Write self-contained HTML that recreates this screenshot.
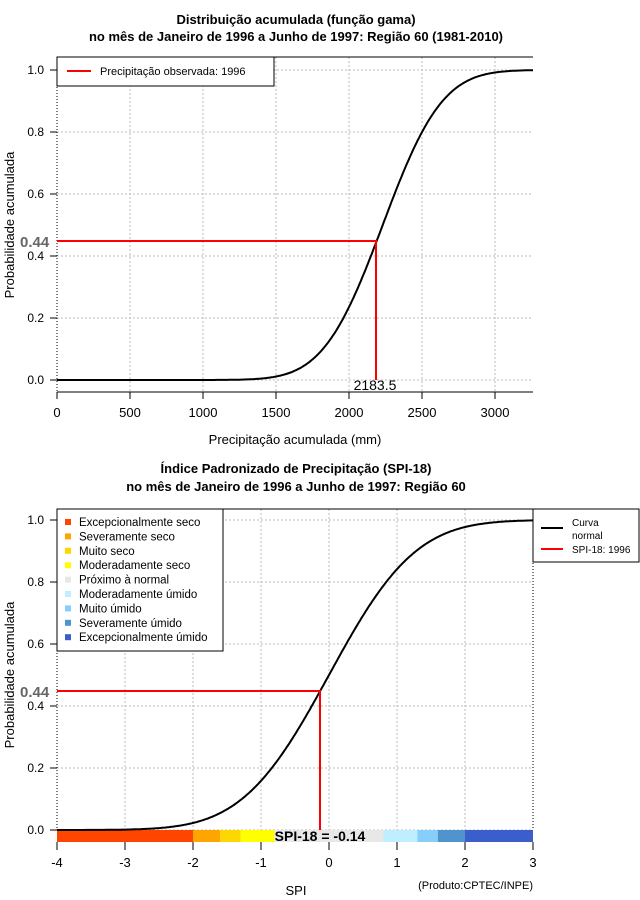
<!DOCTYPE html>
<html><head><meta charset="utf-8"><style>
body{margin:0;background:#fff;}
svg{display:block;font-family:"Liberation Sans","DejaVu Sans",sans-serif;}
</style></head><body>
<svg id="s" width="640" height="900" xmlns="http://www.w3.org/2000/svg">
<rect width="640" height="900" fill="#fff"/>
<g font-weight="bold" font-size="13" text-anchor="middle">
<text x="296" y="24">Distribuição acumulada (função gama)</text>
<text x="296" y="41">no mês de Janeiro de 1996 a Junho de 1997: Região 60 (1981-2010)</text>
<text x="296" y="473">Índice Padronizado de Precipitação (SPI-18)</text>
<text x="296" y="491">no mês de Janeiro de 1996 a Junho de 1997: Região 60</text>
</g>
<g id="g1" stroke="#bbb" stroke-dasharray="2,2" stroke-width="1"></g>
<g id="g2" stroke="#bbb" stroke-dasharray="2,2" stroke-width="1"></g>
<!-- plot1 frame -->
<line x1="57" y1="57" x2="533" y2="57" stroke="#000"/>
<line x1="57" y1="392" x2="533" y2="392" stroke="#000"/>
<line x1="57" y1="57" x2="57" y2="392" stroke="#000" stroke-dasharray="1,2"/>
<!-- plot2 frame -->
<line x1="57" y1="509" x2="533" y2="509" stroke="#000"/>
<line x1="57" y1="509" x2="57" y2="830" stroke="#000" stroke-dasharray="1,2"/>
<line x1="533" y1="509" x2="533" y2="830" stroke="#000" stroke-dasharray="1,2"/>
<!-- colorbar -->
<g id="cb"></g>
<path id="c1" fill="none" stroke="#000" stroke-width="2"/>
<path id="c2" fill="none" stroke="#000" stroke-width="2"/>
<!-- red lines -->
<polyline points="57,241 376,241 376,380" fill="none" stroke="#f00" stroke-width="2"/>
<polyline points="57,691 320,691 320,830" fill="none" stroke="#f00" stroke-width="2"/>
<g id="ticks" stroke="#000"></g>
<g id="lab" font-size="12"></g>
<text x="20" y="247" font-size="15" fill="#666" font-weight="bold">0.44</text>
<text x="20" y="697" font-size="15" fill="#666" font-weight="bold">0.44</text>
<text x="375" y="390" font-size="14" text-anchor="middle">2183.5</text>
<text x="320" y="841" font-size="14" font-weight="bold" text-anchor="middle">SPI-18 = -0.14</text>
<text x="14" y="225" font-size="13" text-anchor="middle" transform="rotate(-90 14 225)">Probabilidade acumulada</text>
<text x="14" y="675" font-size="13" text-anchor="middle" transform="rotate(-90 14 675)">Probabilidade acumulada</text>
<text x="295" y="444" font-size="13" text-anchor="middle">Precipitação acumulada (mm)</text>
<text x="296" y="895" font-size="13" text-anchor="middle">SPI</text>
<text x="533" y="889" font-size="11" text-anchor="end">(Produto:CPTEC/INPE)</text>
<!-- legend1 -->
<rect x="57" y="57" width="217" height="29" fill="#fff" stroke="#000"/>
<line x1="67" y1="71" x2="91" y2="71" stroke="#f00" stroke-width="2"/>
<text x="100" y="75" font-size="11">Precipitação observada: 1996</text>
<!-- legend2 -->
<rect x="57" y="509" width="166" height="142" fill="#fff" stroke="#000"/>
<g id="lg2" font-size="11.5"></g>
<rect x="533" y="509" width="106" height="53" fill="#fff" stroke="#000"/>
<line x1="541" y1="528" x2="563" y2="528" stroke="#000" stroke-width="2"/>
<line x1="541" y1="549" x2="563" y2="549" stroke="#f00" stroke-width="2"/>
<text x="572" y="526" font-size="10">Curva</text>
<text x="572" y="539" font-size="10">normal</text>
<text x="572" y="553" font-size="10">SPI-18: 1996</text>
</svg>
<script>
var NS="http://www.w3.org/2000/svg";
function el(p,t,a,txt){var e=document.createElementNS(NS,t);for(var k in a)e.setAttribute(k,a[k]);if(txt!==undefined)e.textContent=txt;document.getElementById(p).appendChild(e);return e;}
function erf(x){var s=x<0?-1:1;x=Math.abs(x);var t=1/(1+0.3275911*x);var y=1-(((((1.061405429*t-1.453152027)*t)+1.421413741)*t-0.284496736)*t+0.254829592)*t*Math.exp(-x*x);return s*y;}
function Phi(z){return 0.5*(1+erf(z/Math.SQRT2));}
// plot1 mapping
function X1(v){return 57+v*0.146;} function Y1(p){return 380-p*310;}
function Y2(p){return 830-p*310;} function X2(v){return 57+(v+4)*68;}
for(var v=500;v<=3000;v+=500)el("g1","line",{x1:X1(v),y1:57,x2:X1(v),y2:392});
for(var p=0;p<=1.001;p+=0.2){el("g1","line",{x1:57,y1:Y1(p),x2:533,y2:Y1(p)});el("g2","line",{x1:57,y1:Y2(p),x2:533,y2:Y2(p)});}
for(var v=-3;v<=2;v++)el("g2","line",{x1:X2(v),y1:509,x2:X2(v),y2:830});
// curve1: skewed normal-ish
var d="";for(var v=0;v<=3260;v+=10){var z=(v-2231)/320;var p=Phi(z);d+=(v?"L":"M")+X1(v).toFixed(1)+","+Y1(p).toFixed(1);}
document.getElementById("c1").setAttribute("d",d);
d="";for(var v=-4;v<=3.001;v+=0.02){d+=(v>-4?"L":"M")+X2(v).toFixed(1)+","+Y2(Phi(v)).toFixed(1);}
document.getElementById("c2").setAttribute("d",d);
// colorbar
var seg=[[-4,-2,"#ff4500"],[-2,-1.6,"#ffa500"],[-1.6,-1.3,"#ffd700"],[-1.3,-0.8,"#ffff00"],[-0.8,0.8,"#e8e8e8"],[0.8,1.3,"#bfeefe"],[1.3,1.6,"#87cefa"],[1.6,2,"#4f94cd"],[2,3,"#3a5fcd"]];
seg.forEach(function(s){el("cb","rect",{x:X2(s[0]),y:830,width:X2(s[1])-X2(s[0]),height:12,fill:s[2]});});
// ticks & labels
for(var p=0;p<=1.001;p+=0.2){var t=p.toFixed(1);
el("ticks","line",{x1:50,y1:Y1(p),x2:57,y2:Y1(p)});el("lab","text",{x:44,y:Y1(p)+4,"text-anchor":"end"},t);
el("ticks","line",{x1:50,y1:Y2(p),x2:57,y2:Y2(p)});el("lab","text",{x:44,y:Y2(p)+4,"text-anchor":"end"},t);}
for(var v=0;v<=3000;v+=500){el("ticks","line",{x1:X1(v),y1:392,x2:X1(v),y2:399});el("lab","text",{x:X1(v),y:417,"text-anchor":"middle","font-size":13},String(v));}
for(var v=-4;v<=3;v++){el("ticks","line",{x1:X2(v),y1:842,x2:X2(v),y2:850});el("lab","text",{x:X2(v),y:867,"text-anchor":"middle","font-size":13},String(v));}
// legend2
var L=[["Excepcionalmente seco","#ff4500"],["Severamente seco","#ffa500"],["Muito seco","#ffd700"],["Moderadamente seco","#ffff00"],["Próximo à normal","#e8e8e8"],["Moderadamente úmido","#bfeefe"],["Muito úmido","#87cefa"],["Severamente úmido","#4f94cd"],["Excepcionalmente úmido","#3a5fcd"]];
L.forEach(function(l,i){var y=522+i*14.4;el("lg2","rect",{x:65,y:y-3,width:6,height:6,fill:l[1]});el("lg2","text",{x:79,y:y+4},l[0]);});
</script>
</body></html>
